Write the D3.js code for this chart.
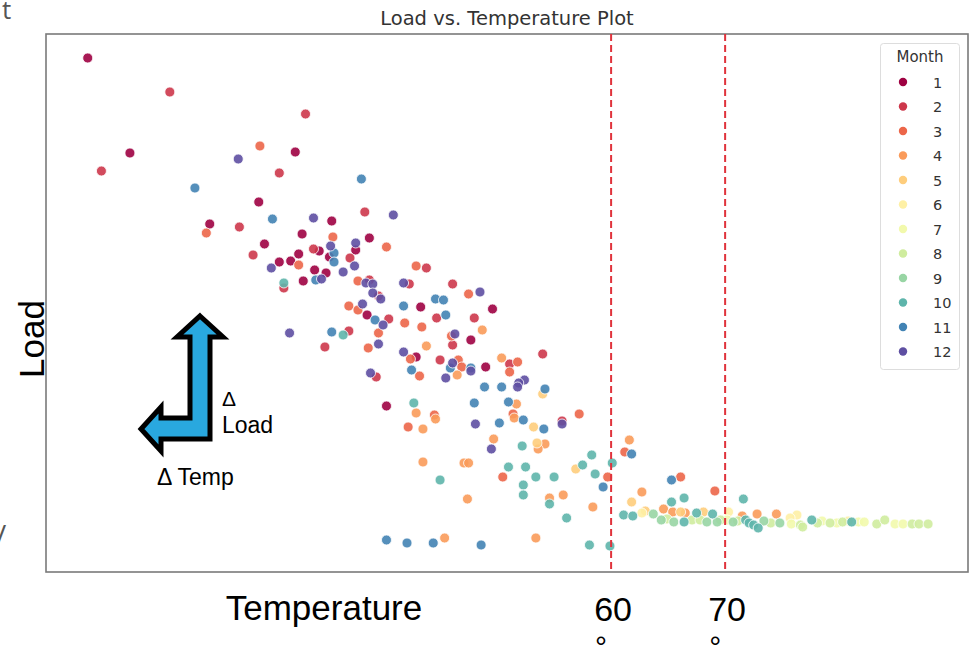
<!DOCTYPE html>
<html lang="en">
<head>
<meta charset="UTF-8">
<title>Load vs. Temperature Plot</title>
<style>
  body { margin: 0; background: #fff; }
  svg { display: block; }
  .mpl { font-family: 'DejaVu Sans', sans-serif; }
  .slide { font-family: 'Liberation Sans', Arial, sans-serif; }
</style>
</head>
<body>
<svg width="971" height="649"></svg>
<script src="https://d3js.org/d3.v7.min.js"></script>
<script>
// months shown in the legend
var months = [1, 2, 3, 4, 5, 6, 7, 8, 9, 10, 11, 12];
var refTemps = [60, 70];

// [temperature, load], one list per month
var m1 = [[14.1,102.8],[17.8,83.8],[32.3,84.0],[29.1,74.0],[24.8,69.6],[35.5,70.2],[32.9,67.6],[38.8,66.8],[29.6,65.6],[34.4,64.2],[30.9,62.0],[31.9,62.2],[32.6,63.6],[35.3,63.0],[37.6,64.4],[34.0,60.4],[35.0,59.8],[33.0,58.2],[38.6,51.4],[43.3,53.0],[42.9,43.0],[40.3,33.2],[49.6,52.6],[47.7,46.4],[49.0,41.0]];
var m2 = [[21.3,96.0],[33.2,91.6],[15.3,80.2],[30.9,79.8],[27.4,69.0],[38.4,72.0],[28.6,63.4],[33.9,64.6],[37.1,62.8],[31.3,56.8],[38.8,58.4],[39.6,55.2],[42.3,57.6],[43.8,60.8],[40.5,50.6],[44.7,50.8],[37.0,48.2],[34.9,45.0],[45.0,42.4],[39.4,39.0],[46.1,57.6],[48.0,50.8],[46.1,45.4],[51.1,41.6],[54.0,43.6],[55.7,30.2]];
var m3 = [[29.2,85.2],[24.5,67.8],[35.6,67.0],[40.3,65.0],[32.6,61.4],[37.8,58.2],[42.9,61.2],[37.0,53.2],[37.8,52.4],[39.6,47.8],[41.9,49.8],[43.4,49.0],[38.7,44.8],[42.4,42.6],[43.2,39.2],[47.5,55.6],[46.0,47.2],[46.6,42.4],[46.9,41.0],[51.8,42.0],[51.1,40.0],[44.5,31.4],[42.2,29.0],[51.4,31.6],[57.2,31.6],[50.5,19.0],[59.7,19.0],[61.2,24.0],[66.1,19.0],[69.1,16.2]];
var m4 = [[43.8,45.2],[48.7,48.4],[46.5,39.4],[50.4,42.8],[42.9,31.8],[44.6,30.6],[43.5,28.6],[51.7,33.6],[51.5,30.8],[49.7,26.6],[54.2,25.6],[53.6,24.6],[43.5,22.0],[47.1,21.8],[47.5,21.8],[47.4,14.6],[54.6,14.8],[55.8,15.4],[58.4,13.0],[45.4,6.8],[53.4,6.8],[61.6,26.4],[62.7,16.0],[64.6,12.6],[65.4,12.0],[66.5,11.8],[71.5,11.2],[72.8,11.6],[74.5,11.6]];
var m5 = [[54.0,35.6],[53.2,29.0],[53.5,25.8],[56.9,20.6],[61.8,14.0],[63.0,12.2],[66.1,12.0],[68.1,12.0]];
var m6 = [[62.7,11.8],[76.3,11.4],[70.3,12.0],[75.7,10.8],[80.8,10.2]];
var m7 = [[70.2,10.4],[75.8,9.6],[78.5,10.2],[79.8,9.8],[81.7,10.0],[82.2,10.0],[84.9,9.6],[85.6,9.6]];
var m8 = [[64.9,10.6],[67.1,10.4],[67.8,10.4],[69.6,10.4],[71.1,10.2],[74.0,9.8],[76.6,9.4],[76.8,9.0],[78.1,9.8],[79.2,9.8],[80.3,10.0],[83.3,9.6],[84.0,10.4],[86.4,9.6],[87.0,9.6],[87.8,9.6]];
var m9 = [[63.7,11.6],[64.4,10.4],[65.5,10.0],[68.4,10.0],[69.3,10.0],[70.7,10.0],[73.4,10.2],[74.8,9.8]];
var m10 = [[31.3,57.8],[36.5,47.4],[42.7,33.8],[45.0,18.4],[52.2,25.2],[51.0,21.0],[52.5,21.0],[53.4,19.0],[55.0,19.0],[52.3,17.4],[52.3,15.4],[54.6,13.6],[56.1,10.8],[57.5,21.4],[58.3,23.4],[58.6,19.6],[60.1,21.8],[61.1,11.4],[61.9,11.2],[58.1,5.4],[59.9,5.2],[65.3,14.0],[66.4,14.8],[71.6,14.6],[66.4,10.0],[67.5,11.8],[68.9,11.6],[71.8,10.4],[72.1,9.8],[72.5,9.4],[72.9,8.8],[77.6,10.4],[81.1,10.0]];
var m11 = [[23.5,76.8],[38.1,78.6],[30.3,70.6],[35.7,63.8],[35.7,62.0],[34.1,58.4],[35.5,48.0],[41.8,53.2],[39.3,50.4],[44.6,54.6],[45.3,54.4],[45.5,51.4],[42.5,40.4],[45.9,40.8],[48.9,37.0],[50.4,37.0],[54.2,36.6],[47.7,40.8],[48.0,33.8],[51.0,34.0],[52.3,30.4],[50.2,29.8],[54.1,28.6],[40.3,6.4],[42.1,5.8],[44.4,5.8],[48.6,5.4],[59.3,17.0],[61.8,23.6],[65.3,18.4]];
var m12 = [[27.3,82.6],[33.9,70.8],[40.9,71.4],[35.4,65.2],[37.6,65.8],[30.2,60.8],[37.5,61.2],[36.5,60.0],[34.6,58.6],[38.5,57.8],[39.1,57.6],[39.1,55.8],[39.8,54.6],[41.8,57.8],[38.2,53.6],[40.0,49.4],[39.6,45.6],[41.8,44.0],[38.9,39.8],[31.8,47.8],[48.5,56.0],[45.5,38.8],[46.3,47.6],[46.1,41.8],[47.7,40.2],[52.4,38.4],[51.9,37.8],[51.8,37.0],[48.1,29.6],[49.5,24.6],[55.7,29.6]];

var byMonth = [m1, m2, m3, m4, m5, m6, m7, m8, m9, m10, m11, m12];
var points = [];
byMonth.forEach(function(list, i) {
    list.forEach(function(p) { points.push({month: months[i], temp: p[0], load: p[1]}); });
});

var svg = d3.select("svg");
var plot = {left: 46, top: 34, right: 968, bottom: 572};

var x = d3.scaleLinear().domain([10.44, 91.3]).range([plot.left, plot.right]);
var y = d3.scaleLinear().domain([0, 107.6]).range([plot.bottom, plot.top]);
var color = function(m) { return d3.interpolateSpectral((m - 1) / 11); };

// frame
svg.append("rect")
    .attr("x", plot.left).attr("y", plot.top)
    .attr("width", plot.right - plot.left).attr("height", plot.bottom - plot.top)
    .attr("fill", "#fff").attr("stroke", "#7a7a7a").attr("stroke-width", 1.6);

// title
svg.append("text").attr("class", "mpl")
    .attr("x", (plot.left + plot.right) / 2).attr("y", 25)
    .attr("text-anchor", "middle").attr("font-size", 19.5).attr("fill", "#333")
    .text("Load vs. Temperature Plot");

// dots
svg.append("g").selectAll("circle")
    .data(points)
    .enter().append("circle")
    .attr("cx", function(d) { return x(d.temp); })
    .attr("cy", function(d) { return y(d.load); })
    .attr("r", 5)
    .attr("fill", function(d) { return color(d.month); })
    .attr("fill-opacity", 0.9)
    .attr("stroke", "#fff").attr("stroke-width", 0.8);

// dashed reference lines
svg.append("g").selectAll("line")
    .data(refTemps)
    .enter().append("line")
    .attr("x1", function(d) { return x(d); }).attr("x2", function(d) { return x(d); })
    .attr("y1", plot.top).attr("y2", plot.bottom)
    .attr("stroke", "#e0333c").attr("stroke-width", 2)
    .attr("stroke-dasharray", "7,4");

// legend
var lg = svg.append("g");
lg.append("rect")
    .attr("x", 880.5).attr("y", 43.5).attr("width", 79).attr("height", 326)
    .attr("rx", 3).attr("fill", "#fff").attr("fill-opacity", 0.85)
    .attr("stroke", "#ddd");
lg.append("text").attr("class", "mpl")
    .attr("x", 920).attr("y", 62).attr("text-anchor", "middle")
    .attr("font-size", 15).attr("fill", "#333").text("Month");
var rows = lg.selectAll(".row").data(months).enter().append("g")
    .attr("transform", function(d, i) { return "translate(0," + (82 + i * 24.5) + ")"; });
rows.append("circle").attr("cx", 903).attr("cy", 0).attr("r", 4.2)
    .attr("fill", function(d) { return color(d); });
rows.append("text").attr("class", "mpl")
    .attr("x", 933).attr("y", 5.5).attr("font-size", 14.5).attr("fill", "#333")
    .text(function(d) { return d; });

// slide annotations
svg.append("text").attr("class", "slide")
    .attr("transform", "translate(44,339) rotate(-90)")
    .attr("text-anchor", "middle").attr("font-size", 35).attr("fill", "#000")
    .text("Load");
svg.append("text").attr("class", "slide")
    .attr("x", 324).attr("y", 620).attr("text-anchor", "middle")
    .attr("font-size", 35).attr("fill", "#000").text("Temperature");

refTemps.forEach(function(t) {
    svg.append("text").attr("class", "slide")
        .attr("x", x(t) + 2).attr("y", 621).attr("text-anchor", "middle")
        .attr("font-size", 34).attr("fill", "#000").text(t);
    svg.append("text").attr("class", "slide")
        .attr("x", x(t) - 10).attr("y", 657).attr("text-anchor", "middle")
        .attr("font-size", 30).attr("fill", "#000").text("°");
});

// L shaped delta arrow
svg.append("path")
    .attr("d", "M200,316 L223,337 L210,337 L210,439 L161,439 L161,451 L141,429 L161,407 L161,418 L190,418 L190,337 L177,337 Z")
    .attr("fill", "#29a8df").attr("stroke", "#000").attr("stroke-width", 5)
    .attr("stroke-linejoin", "miter");

svg.append("text").attr("class", "slide")
    .attr("x", 222).attr("y", 406).attr("font-size", 21).text("\u0394");
svg.append("text").attr("class", "slide")
    .attr("x", 222).attr("y", 433).attr("font-size", 23).text("Load");
svg.append("text").attr("class", "slide")
    .attr("x", 157).attr("y", 485).attr("font-size", 23).text("\u0394 Temp");

// stray characters from the slide behind
svg.append("text").attr("x", 2).attr("y", 19).attr("font-family", "Open Sans, sans-serif")
    .attr("font-size", 26).attr("fill", "#555").text("t");
svg.append("text").attr("x", -4).attr("y", 545).attr("font-family", "Open Sans, sans-serif")
    .attr("font-size", 28).attr("fill", "#555").text("/");
</script>
</body>
</html>
